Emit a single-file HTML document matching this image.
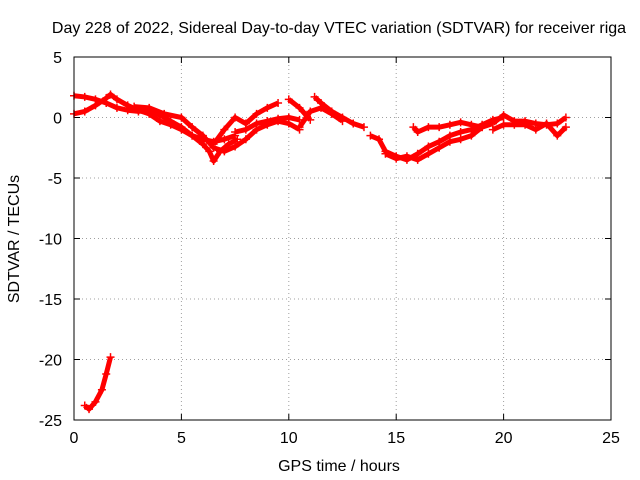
<!DOCTYPE html>
<html><head><meta charset="utf-8"><style>
body{margin:0;background:#fff}
svg{display:block;font-family:"Liberation Sans",sans-serif;font-size:16px}
</style></head><body>
<svg id="chart" width="640" height="480" viewBox="0 0 640 480">
<rect width="640" height="480" fill="#fff"/>
<text x="339" y="33" text-anchor="middle">Day 228 of 2022, Sidereal Day-to-day VTEC variation (SDTVAR) for receiver riga</text>
<g id="grid"></g>
<g id="ticks"></g>
<g id="series"></g>
<rect x="74" y="57" width="537" height="363" fill="none" stroke="#000" stroke-width="1"/>
<text x="339" y="471" text-anchor="middle">GPS time / hours</text>
<text x="19" y="239" text-anchor="middle" transform="rotate(-90 19 239)">SDTVAR / TECUs</text>
</svg>
<script>
const xTicks=[0,5,10,15,20,25];
const yTicks=[5,0,-5,-10,-15,-20,-25];
const trackA=[[0,1.8],[0.5,1.7],[1,1.5],[1.5,1.2],[2,0.8],[2.5,0.6],[3,0.5],[3.5,0.6],[4,0.2],[4.5,-0.3],[5,-0.8],[5.5,-1.5],[6,-2.2],[6.3,-2.8],[6.5,-3.6],[6.8,-2.8],[7.2,-2.2],[7.6,-1.8]];
const trackB=[[0,0.3],[0.5,0.5],[1,1.0],[1.5,1.6],[1.7,1.9],[2,1.5],[2.5,1.0],[3,0.6],[3.5,0.3],[4,-0.3],[4.5,-0.6],[5,-1.0],[5.5,-1.5],[6,-1.8],[6.5,-2.0],[7,-1.8],[7.5,-1.5]];
const trackC=[[2.8,0.9],[3.5,0.8],[4.2,0.3],[5,0],[5.5,-0.8],[6,-1.5],[6.5,-2.5],[7,-2.8],[7.5,-2.4],[8,-1.8],[8.5,-1.0],[9,-0.6],[9.5,-0.3],[10,-0.5],[10.5,-1.0]];
const trackD=[[6.5,-2.2],[7,-1.0],[7.5,0],[8,-0.5],[8.5,0.3],[9,0.8],[9.5,1.2]];
const trackE=[[7.5,-1.2],[8,-1.0],[8.5,-0.5],[9,-0.3],[9.5,-0.1],[10,0],[10.5,-0.2]];
const trackF=[[10,1.5],[10.5,0.8],[11,-0.2]];
const trackG=[[11.2,1.7],[11.5,1.2],[12,0.5],[12.5,0],[13,-0.5],[13.5,-0.8]];
const trackH=[[10.5,-0.8],[11,0.5],[11.5,0.8],[12,0.3],[12.5,-0.3]];
const trackI=[[13.8,-1.5],[14.2,-1.8],[14.5,-2.8],[15,-3.2],[15.5,-3.5],[16,-3.0],[16.5,-2.4],[17,-2.0],[17.5,-1.5],[18,-1.2],[18.5,-1.0],[19,-0.6],[19.5,-0.2],[20,0]];
const trackJ=[[14.5,-3.0],[15,-3.4],[15.5,-3.2],[16,-3.5],[16.5,-3.0],[17,-2.5],[17.5,-2.0],[18,-1.8],[18.5,-1.5],[19,-0.8],[19.5,-0.5]];
const trackK=[[15.8,-0.8],[16,-1.2],[16.5,-0.8],[17,-0.8],[17.5,-0.6],[18,-0.4],[18.5,-0.6],[19,-0.8]];
const trackL=[[19.5,-0.5],[20,0.2],[20.5,-0.3],[21,-0.3],[21.5,-0.5],[22,-0.6],[22.5,-0.5],[22.9,0]];
const trackM=[[19.5,-1.0],[20,-0.6],[20.5,-0.6],[21,-0.6],[21.5,-1.0],[22,-0.5],[22.5,-1.5],[22.9,-0.8]];
const trackN=[[0.5,-23.8],[0.7,-24.1],[1,-23.5],[1.3,-22.5],[1.5,-21.2],[1.7,-19.8]];
const tracks=[trackA,trackB,trackC,trackD,trackE,trackF,trackG,trackH,trackI,trackJ,trackK,trackL,trackM,trackN];

const X0=74,X1=611,Y0=57,Y1=420;
const xs=v=>X0+(v-0)/(25-0)*(X1-X0);
const ys=v=>Y0+(5-v)/(5-(-25))*(Y1-Y0);
const NS="http://www.w3.org/2000/svg";
function mk(tag,attrs,parent){const e=document.createElementNS(NS,tag);for(const k in attrs)e.setAttribute(k,attrs[k]);parent.appendChild(e);return e;}
const grid=document.getElementById('grid'),ticks=document.getElementById('ticks'),ser=document.getElementById('series');
xTicks.forEach(t=>{const x=xs(t);
 if(t>0&&t<25){const g=mk('line',{x1:x,x2:x,y1:Y0,y2:Y1,stroke:'#a0a0a0','stroke-dasharray':'1,3'},grid);
 
 }
 const a=mk('line',{x1:x,x2:x,y1:Y1,y2:Y1-6,stroke:'#000'},ticks);
 
 
 const b=mk('line',{x1:x,x2:x,y1:Y0,y2:Y0+6,stroke:'#000'},ticks);
 
 
 const l=mk('text',{x:x,y:443,'text-anchor':'middle'},ticks);l.textContent=t;
 
 });
yTicks.forEach(t=>{const y=ys(t);
 if(t<5&&t>-25){const g=mk('line',{x1:X0,x2:X1,y1:y,y2:y,stroke:'#a0a0a0','stroke-dasharray':'1,3'},grid);
 
 }
 const a=mk('line',{x1:X0,x2:X0+6,y1:y,y2:y,stroke:'#000'},ticks);
 
 
 const b=mk('line',{x1:X1,x2:X1-6,y1:y,y2:y,stroke:'#000'},ticks);
 
 
 const l=mk('text',{x:62,y:y+6,'text-anchor':'end'},ticks);l.textContent=t;
 
 });
tracks.forEach(tr=>{
 const p=mk('polyline',{points:tr.map(d=>xs(d[0])+','+ys(d[1])).join(' '),fill:'none',stroke:'#ff0000','stroke-width':5,'stroke-linejoin':'round'},ser);
 
 
 tr.forEach(d=>{const x=xs(d[0]),y=ys(d[1]);
  const m=mk('path',{d:`M${x-4},${y}H${x+4}M${x},${y-4}V${y+4}`,stroke:'#ff0000','stroke-width':1.5},ser);
  
  });
});
</script>
</body></html>
